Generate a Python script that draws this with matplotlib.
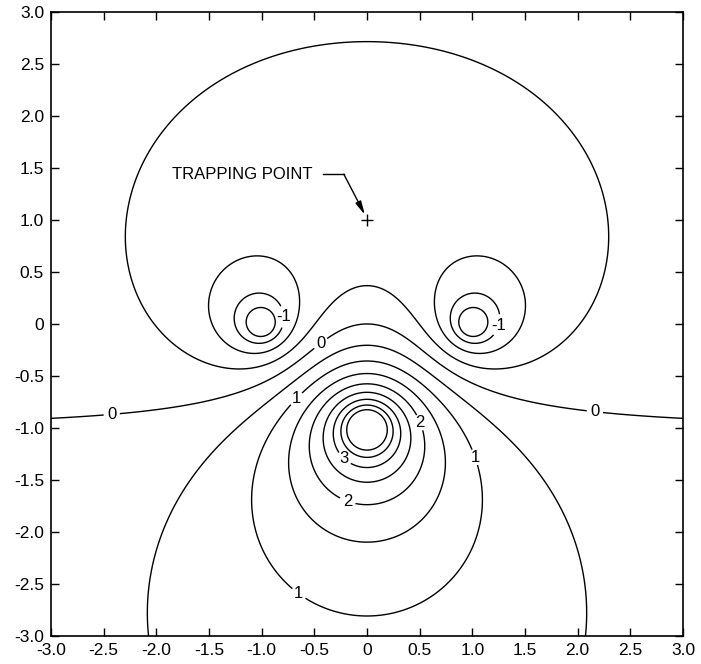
import numpy as np
import matplotlib
matplotlib.use("Agg")
import matplotlib.pyplot as plt

# line charges: position and weight, potential = sum w*ln(r)
charge_x = [-1.0, 1.0, 0.0]
charge_y = [0.0, 0.0, -1.0]
charge_w = [1.0, 1.0, -2.0]

levels = [-2.0, -1.5, -1.0, -0.5, 0.0, 0.5, 1.0, 1.5, 2.0, 2.5, 3.0, 3.5, 4.0]

# contour labels as printed on the figure: level -> (text, positions)
labels = {
    -1.5: ('-1', [(-0.78, 0.07), (1.28, -0.02)]),
    0.0: ('0', [(-2.42, -0.91), (-0.43, -0.20), (2.16, -0.87)]),
    1.0: ('1', [(-0.66, -0.73), (1.03, -1.28), (-0.66, -2.61)]),
    2.0: ('2', [(0.62, -0.90), (-0.19, -1.72)]),
    3.0: ('3', [(-0.23, -1.31)]),
}

trap_x, trap_y = 0.0, 1.0
ticks = [-3.0, -2.5, -2.0, -1.5, -1.0, -0.5, 0.0, 0.5, 1.0, 1.5, 2.0, 2.5, 3.0]
tick_labels = ['-3.0', '-2.5', '-2.0', '-1.5', '-1.0', '-0.5', '0',
               '0.5', '1.0', '1.5', '2.0', '2.5', '3.0']

plt.rcParams['font.family'] = ['Liberation Sans', 'DejaVu Sans']
plt.rcParams['contour.negative_linestyle'] = 'solid'

fig = plt.figure(figsize=(7.01, 6.64), dpi=100)
ax = fig.add_axes([0.0728, 0.0422, 0.9015, 0.9398])

xs = np.linspace(-3.2, 3.2, 800)
X, Y = np.meshgrid(xs, xs)
V = np.zeros_like(X)
for cx, cy, w in zip(charge_x, charge_y, charge_w):
    V += w * np.log(np.hypot(X - cx, Y - cy))

plain = [lv for lv in levels if lv not in labels]
ax.contour(X, Y, V, levels=plain, colors='k', linewidths=1.0,
           linestyles='solid')
for lv, (txt, pos) in labels.items():
    cs = ax.contour(X, Y, V, levels=[lv], colors='k', linewidths=1.0,
                    linestyles='solid')
    tl = ax.clabel(cs, fmt={lv: txt}, manual=pos, inline=True,
                   inline_spacing=3, fontsize=12)
    for t in tl:
        t.set_rotation(0)

ax.plot(trap_x, trap_y, marker='+', color='k', markersize=9, mew=1.0)
ax.text(-1.85, 1.44, 'TRAPPING POINT', fontsize=12, va='center', ha='left')
ax.plot([-0.42, -0.22], [1.44, 1.44], color='k', lw=1.0)
ax.annotate('', xy=(trap_x - 0.02, trap_y + 0.05), xytext=(-0.22, 1.44),
            arrowprops=dict(arrowstyle='-|>,head_length=0.8,head_width=0.18',
                            color='k', lw=1.0, shrinkA=0, shrinkB=0))

ax.set_xlim(-3, 3)
ax.set_ylim(-3, 3)
ax.set_xticks(ticks)
ax.set_yticks(ticks)
ax.set_xticklabels(tick_labels)
ax.set_yticklabels(tick_labels)
ax.tick_params(direction='in', length=6, width=1.0, top=True, right=True,
               labelsize=12.5, pad=5)
for s in ax.spines.values():
    s.set_linewidth(1.2)

fig.savefig('out.png', dpi=100)
